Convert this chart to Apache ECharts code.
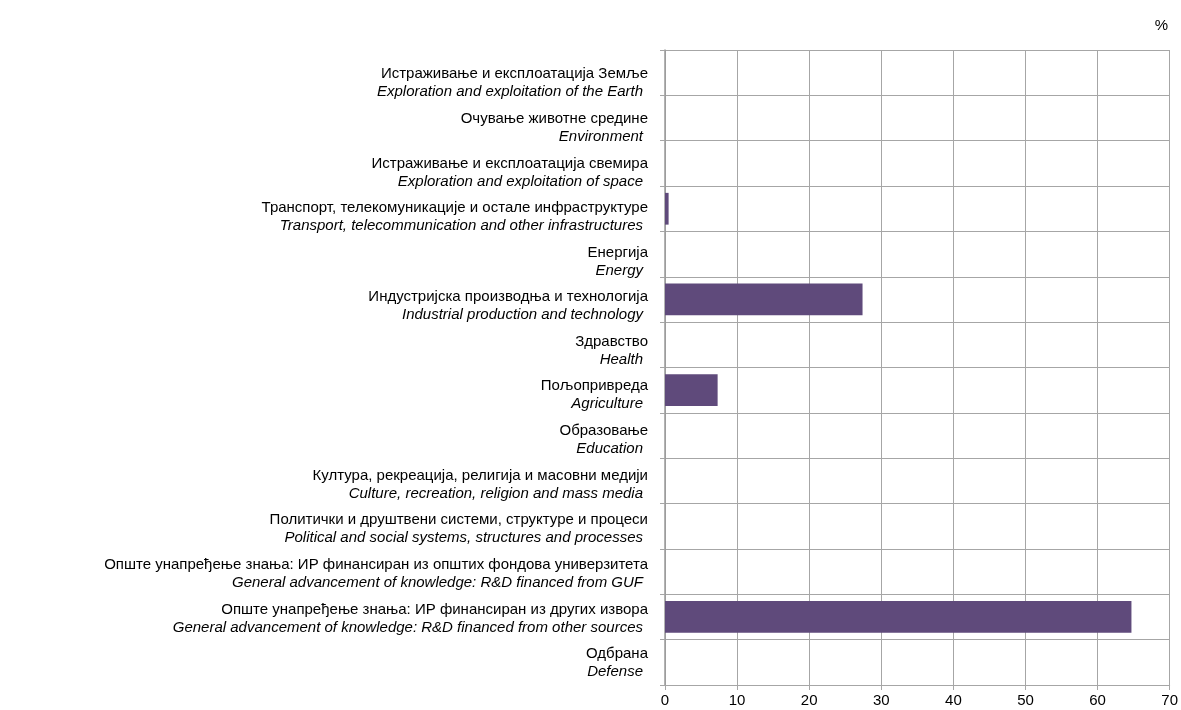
<!DOCTYPE html>
<html><head><meta charset="utf-8">
<script src="https://cdn.jsdelivr.net/npm/echarts@6/dist/echarts.min.js"></script>
<style>html,body{margin:0;padding:0;background:#fff}#c{width:1181px;height:710px}</style>
</head><body><div id="c"></div>
<script>
const labelsSr = [
  'Истраживање и експлоатација Земље',
  'Очување животне средине',
  'Истраживање и експлоатација свемира',
  'Транспорт, телекомуникације и остале инфраструктуре',
  'Енергија',
  'Индустријска производња и технологија',
  'Здравство',
  'Пољопривреда',
  'Образовање',
  'Култура, рекреација, религија и масовни медији',
  'Политички и друштвени системи, структуре и процеси',
  'Опште унапређење знања: ИР финансиран из општих фондова универзитета',
  'Опште унапређење знања: ИР финансиран из других извора',
  'Одбрана'
];
const labelsEn = [
  'Exploration and exploitation of the Earth',
  'Environment',
  'Exploration and exploitation of space',
  'Transport, telecommunication and other infrastructures',
  'Energy',
  'Industrial production and technology',
  'Health',
  'Agriculture',
  'Education',
  'Culture, recreation, religion and mass media',
  'Political and social systems, structures and processes',
  'General advancement of knowledge: R&D financed from GUF',
  'General advancement of knowledge: R&D financed from other sources',
  'Defense'
];
const values = [0, 0, 0, 0.5, 0, 27.4, 0, 7.3, 0, 0, 0, 0, 64.7, 0];
const xTicks = [0, 10, 20, 30, 40, 50, 60, 70];

const n = labelsSr.length;
const cats = labelsSr.map((s, i) => ({
  value: s + '\n' + labelsEn[i],
  textStyle: { padding: [Math.max(0, Math.round(2 * (10.5 - i * 0.77))), 0, 0, 0] }
}));
const font = "'Liberation Sans Narrow','Arial Narrow','Liberation Sans',sans-serif";
const chart = echarts.init(document.getElementById('c'));
chart.setOption({
  animation: false,
  textStyle: { fontFamily: font },
  grid: { left: 665, right: 9, top: 50, bottom: 25, containLabel: false },
  title: { text: '%', right: 8, top: 13, textStyle: { fontFamily: font, fontSize: 15, fontWeight: 'normal', color: '#000' } },
  xAxis: {
    type: 'value', min: xTicks[0], max: xTicks[xTicks.length - 1], interval: 10,
    axisLine: { show: true, lineStyle: { color: '#a6a6a6' } },
    axisTick: { show: true, length: 5, lineStyle: { color: '#a6a6a6' } },
    axisLabel: { color: '#000', fontSize: 15, fontFamily: font, margin: 8 },
    splitLine: { show: true, lineStyle: { color: '#a6a6a6' } }
  },
  yAxis: {
    type: 'category', data: cats, inverse: true,
    axisLine: { show: true, lineStyle: { color: '#9a9a9a', width: 1.5 } },
    axisTick: { show: true, length: 5, lineStyle: { color: '#a6a6a6' } },
    splitLine: { show: true, lineStyle: { color: '#a6a6a6' } },
    axisLabel: {
      margin: 17, align: 'right',
      formatter: function (v) {
        const p = v.split('\n');
        return '{a|' + p[0] + '}\n{b|' + p[1] + '}';
      },
      rich: {
        a: { fontFamily: font, fontSize: 15, color: '#000', lineHeight: 18, align: 'right' },
        b: { fontFamily: font, fontSize: 15, color: '#000', fontStyle: 'italic', lineHeight: 18, align: 'right', padding: [0, 5, 0, 0] }
      }
    }
  },
  series: [{
    type: 'bar', data: values, barCategoryGap: '30%',
    itemStyle: { color: '#5f4a7b' }
  }]
});
</script></body></html>
